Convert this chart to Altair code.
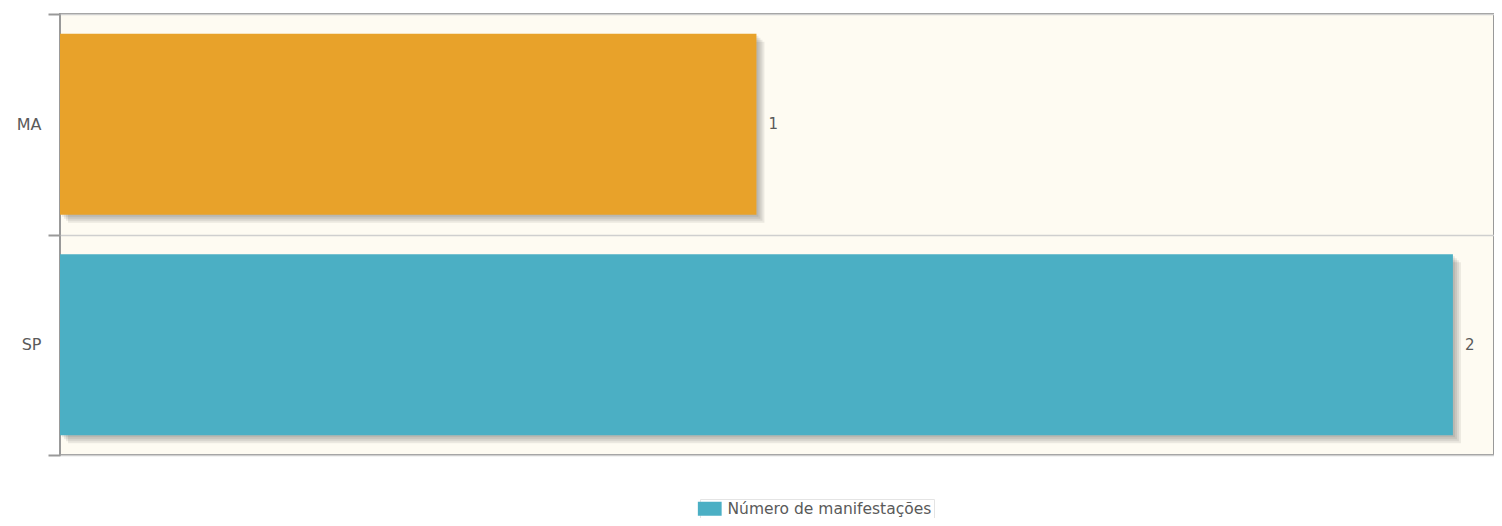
import altair as alt
import pandas as pd

estados = ["MA", "SP"]
valores = [1, 2]
cores = ["#E8A22A", "#4BAFC4"]
serie = ["Número de manifestações"]
xmax = 2.059

df = pd.DataFrame({"estado": estados, "valor": valores, "cor": cores})
leg = pd.DataFrame({"serie": serie})

FONT = "DejaVu Sans"
BAND = alt.RelativeBandSize(0.82)

yenc = alt.Y("estado:N", sort=estados, title=None,
             scale=alt.Scale(paddingInner=0, paddingOuter=0),
             axis=alt.Axis(tickBand="extent", grid=True, gridColor="#cfcfcf",
                           gridWidth=1.5, tickSize=12, tickColor="#999999",
                           tickWidth=2, domain=False, labelPadding=7, zindex=1,
                           labelFont=FONT, labelFontSize=16, labelColor="#5a5a5a"))
xenc = alt.X("valor:Q", title=None, scale=alt.Scale(domain=[0, xmax], nice=False, zero=True),
             axis=None)

base = alt.Chart(df)

background = alt.Chart(leg).mark_rect(color="#FEFBF2", stroke="#999999", strokeWidth=2).encode(
    x=alt.datum(0, scale=alt.Scale(domain=[0, xmax], nice=False, zero=True), axis=None),
    x2=alt.datum(xmax),
)

shadows = [
    base.mark_bar(color="#000000", opacity=0.075, height=BAND,
                  xOffset=o, x2Offset=o, yOffset=o, y2Offset=o)
    .encode(x=xenc, y=yenc)
    for o in (2, 4, 6, 8)
]

bars = base.mark_bar(opacity=1, height=BAND).encode(
    x=xenc, y=yenc, fill=alt.Fill("cor:N", scale=None)
)

labels = base.mark_text(align="left", baseline="middle", dx=12, font=FONT,
                        fontSize=15, color="#5a5a5a").encode(
    x=xenc, y=yenc, text=alt.Text("valor:Q")
)

legend_layer = alt.Chart(leg).mark_point(
    filled=True, size=0, shape="M-1.7,-1L1.7,-1L1.7,1L-1.7,1Z"
).encode(
    color=alt.Color("serie:N", scale=alt.Scale(range=["#4BAFC4"]),
                    legend=alt.Legend(title=None, orient="none", legendX=640, legendY=485,
                                      symbolType="M-1.7,-1L1.7,-1L1.7,1L-1.7,1Z",
                                      symbolSize=196, symbolOpacity=1,
                                      symbolStrokeWidth=0, symbolFillColor="#4BAFC4",
                                      labelFont=FONT, labelFontSize=15.5, labelLimit=0,
                                      labelColor="#5a5a5a", labelOffset=10,
                                      padding=2, strokeColor="#e4e4e4"))
)

chart = alt.layer(background, *shadows, bars, labels, legend_layer).properties(
    width=1434, height=441,
    autosize=alt.AutoSizeParams(type="none"),
    padding={"left": 52, "top": 6, "right": 0, "bottom": 63},
    background="#ffffff",
).configure_view(stroke="#999999", strokeWidth=2)

chart.save("out.html", embed_options={"renderer": "svg", "actions": False})
